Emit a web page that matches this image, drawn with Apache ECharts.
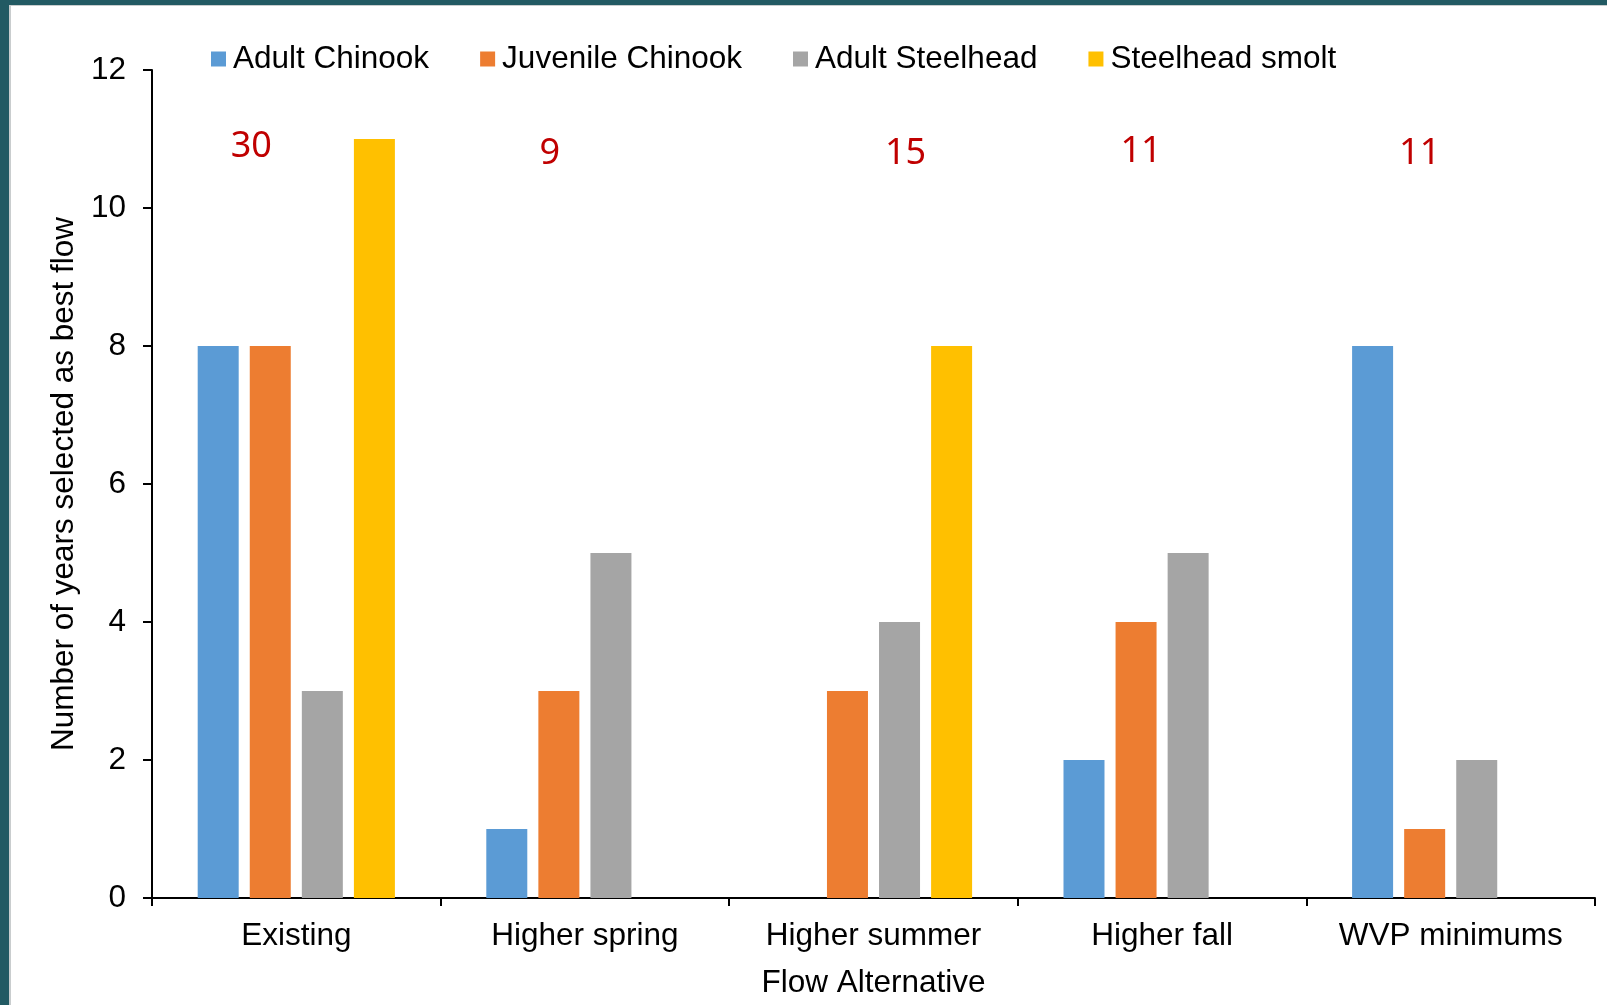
<!DOCTYPE html>
<html>
<head>
<meta charset="utf-8">
<script src="https://cdn.jsdelivr.net/npm/echarts@6/dist/echarts.min.js"></script>
<style>
  html, body { margin: 0; padding: 0; background: #ffffff; }
  #chart { position: absolute; left: 0; top: 0; width: 1607px; height: 1005px; }
  .frame { position: absolute; pointer-events: none; }
  #frame-left { left: 0; top: 0; width: 9px; height: 1005px; background: #225A63; }
  #frame-left-edge { left: 9px; top: 5px; width: 2px; height: 1000px; background: #C9CDCE; }
  #frame-top { left: 0; top: 0; width: 1607px; height: 5px; background: #225A63; }
  #frame-top-edge { left: 9px; top: 5px; width: 1598px; height: 1px; background: #C9CDCE; }
</style>
</head>
<body>
<div id="chart"></div>
<div class="frame" id="frame-top"></div>
<div class="frame" id="frame-top-edge"></div>
<div class="frame" id="frame-left"></div>
<div class="frame" id="frame-left-edge"></div>
<script>
// Flow alternatives on the x axis
const categories = ['Existing', 'Higher spring', 'Higher summer', 'Higher fall', 'WVP minimums'];

// Number of years each alternative was selected as best flow, per life stage
const adultChinook     = [8, 1, 0, 2, 8];
const juvenileChinook  = [8, 3, 3, 4, 1];
const adultSteelhead   = [3, 5, 4, 5, 2];
const steelheadSmolt   = [11, 0, 8, 0, 0];

const yTicks = [0, 2, 4, 6, 8, 10, 12];

// Totals written in red above each group
const groups = [adultChinook, juvenileChinook, adultSteelhead, steelheadSmolt];
const totals = categories.map((_, i) => groups.reduce((s, arr) => s + arr[i], 0));

// Hand-placed offsets for the red totals (pixels from group centre / grid top)
const totalShiftX = [-45, -35, 32, -21, -31];
const totalShiftY = [77, 84, 84, 81.5, 83.5];

const FONT = '"Liberation Sans", Arial, sans-serif';
const FS = 31.5;

const chart = echarts.init(document.getElementById('chart'), null, { renderer: 'canvas' });

function barSeries(name, data, color) {
  return {
    name: name,
    type: 'bar',
    data: data,
    barWidth: 41,
    barGap: '27%',
    itemStyle: { color: color },
    emphasis: { disabled: true }
  };
}

chart.setOption({
  animation: false,
  backgroundColor: '#ffffff',
  textStyle: { fontFamily: FONT, color: '#000' },
  legend: {
    data: ['Adult Chinook', 'Juvenile Chinook', 'Adult Steelhead', 'Steelhead smolt'],
    left: 206,
    top: 38,
    icon: 'rect',
    itemWidth: 15,
    itemHeight: 15,
    itemGap: 51,
    textStyle: { fontFamily: FONT, fontSize: FS, color: '#000', padding: [0, 0, 0, 2] },
    selectedMode: false
  },
  grid: { left: 152, right: 12, top: 70, bottom: 107, containLabel: false },
  xAxis: {
    type: 'category',
    data: categories,
    name: 'Flow Alternative',
    nameLocation: 'middle',
    nameGap: 69,
    nameTextStyle: { fontFamily: FONT, fontSize: FS, color: '#000' },
    axisLine: { lineStyle: { color: '#000', width: 2 } },
    axisTick: { show: true, interval: 0, alignWithLabel: false, length: 8, lineStyle: { color: '#000', width: 2 } },
    axisLabel: { interval: 0, fontFamily: FONT, fontSize: FS, color: '#000', margin: 22 },
    splitLine: { show: false }
  },
  yAxis: {
    type: 'value',
    min: yTicks[0],
    max: yTicks[yTicks.length - 1],
    interval: 2,
    name: 'Number of years selected as best flow',
    nameLocation: 'middle',
    nameGap: 72,
    nameTextStyle: { fontFamily: FONT, fontSize: FS, color: '#000' },
    axisLine: { show: true, lineStyle: { color: '#000', width: 2 } },
    axisTick: { show: true, length: 9, lineStyle: { color: '#000', width: 2 } },
    axisLabel: { fontFamily: FONT, fontSize: FS, color: '#000', margin: 26 },
    splitLine: { show: false }
  },
  series: [
    barSeries('Adult Chinook', adultChinook, '#5B9BD5'),
    barSeries('Juvenile Chinook', juvenileChinook, '#ED7D31'),
    barSeries('Adult Steelhead', adultSteelhead, '#A5A5A5'),
    barSeries('Steelhead smolt', steelheadSmolt, '#FFC000'),
    {
      name: 'Total',
      type: 'custom',
      data: categories.map((c, i) => [i, totals[i]]),
      encode: { x: 0 },
      silent: true,
      renderItem: function (params, api) {
        const idx = params.dataIndex;
        const p = api.coord([api.value(0), 0]);
        return {
          type: 'text',
          style: {
            text: String(api.value(1)),
            x: p[0] + totalShiftX[idx],
            y: params.coordSys.y + totalShiftY[idx],
            fill: '#C00000',
            fontFamily: '"Noto Sans", "Open Sans", sans-serif',
            fontSize: 36,
            align: 'center',
            verticalAlign: 'middle'
          }
        };
      }
    }
  ]
});
</script>
</body>
</html>
